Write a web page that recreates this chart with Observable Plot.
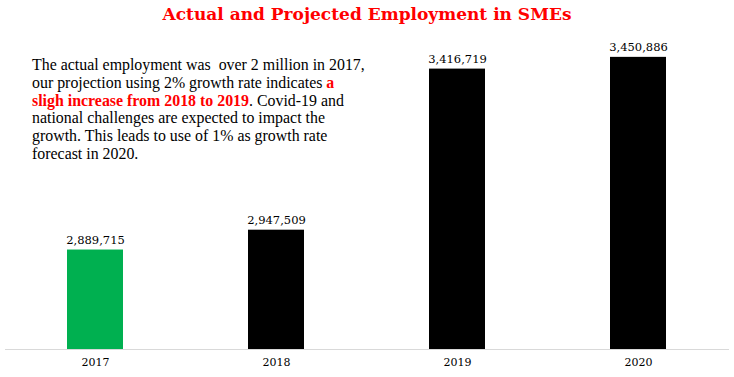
<!DOCTYPE html>
<html>
<head>
<meta charset="utf-8">
<script src="https://cdn.jsdelivr.net/npm/d3@7"></script>
<script src="https://cdn.jsdelivr.net/npm/@observablehq/plot@0.6"></script>
<style>
  body { margin: 0; background: #fff; }
  #wrap { position: relative; width: 734px; height: 377px; overflow: hidden; }
  #title { height: 28px; line-height: 28px; text-align: center; color: #ff0000; font-family: "DejaVu Serif", serif; font-weight: bold; font-size: 17px; }
  #note { position: absolute; left: 32px; top: 56px; font-family: "Liberation Serif", serif; font-size: 15.9px; line-height: 17.8px; color: #000; white-space: nowrap; }
  #note b { color: #ff0000; }
</style>
</head>
<body>
<div id="wrap">
  <div id="title">Actual and Projected Employment in SMEs</div>
  <div id="chart"></div>
  <div id="note">The actual employment was&nbsp; over 2 million in 2017,<br>our projection using 2% growth rate indicates <b>a</b><br><b>sligh increase from 2018 to 2019</b>. Covid-19 and<br>national challenges are expected to impact the<br>growth. This leads to use of 1% as growth rate<br>forecast in 2020.</div>
</div>
<script>
const years = ["2017", "2018", "2019", "2020"];
const employment = [2889715, 2947509, 3416719, 3450886];
const barColors = ["#00b050", "#000000", "#000000", "#000000"];
const yMin = 2600000;
const yMax = 3500000;

const data = years.map((y, i) => ({year: y, value: employment[i], color: barColors[i]}));
const fmt = d3.format(",");

const chart = Plot.plot({
  width: 734,
  height: 349,
  marginLeft: 5,
  marginRight: 5,
  marginTop: 12,
  marginBottom: 28,
  style: {fontFamily: "'DejaVu Serif', serif", background: "#fff"},
  x: {domain: years, paddingInner: 0.69, paddingOuter: 0.345, label: null, tickSize: 0, tickPadding: 10},
  y: {domain: [yMin, yMax], axis: null},
  marks: [
    Plot.barY(data, {x: "year", y1: () => yMin, y2: "value", fill: "color"}),
    Plot.ruleY([yMin], {stroke: "#d9d9d9", strokeWidth: 1}),
    Plot.text(data, {x: "year", y: "value", text: d => fmt(d.value), lineAnchor: "bottom", dy: -6, fontSize: 11.5, fill: "#000"}),
    Plot.axisX({tickSize: 0, tickPadding: 9, fontSize: 11, label: null, fill: "#000"})
  ]
});
document.getElementById("chart").appendChild(chart);
</script>
</body>
</html>
